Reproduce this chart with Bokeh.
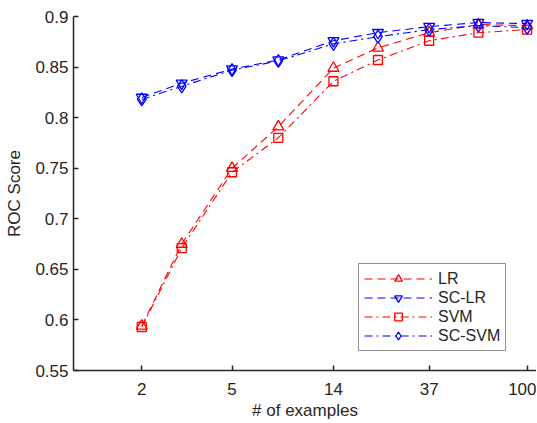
from bokeh.plotting import figure
from bokeh.models import Range1d, FixedTicker, Legend, LegendItem
from bokeh.embed import file_html
from bokeh.resources import INLINE

# ---- data ----
examples = [2, 3, 5, 8, 14, 22, 37, 61, 100]
lr = [0.594, 0.675, 0.750, 0.791, 0.849, 0.869, 0.884, 0.892, 0.891]
sc_lr = [0.820, 0.834, 0.848, 0.857, 0.876, 0.884, 0.890, 0.894, 0.893]
svm = [0.593, 0.671, 0.746, 0.780, 0.836, 0.857, 0.876, 0.884, 0.887]
sc_svm = [0.818, 0.831, 0.847, 0.856, 0.873, 0.880, 0.887, 0.891, 0.889]
x_ticks = [2, 5, 14, 37, 100]
x_tick_labels = ["2", "5", "14", "37", "100"]
y_ticks = [0.55, 0.6, 0.65, 0.7, 0.75, 0.8, 0.85, 0.9]
y_tick_labels = ["0.55", "0.6", "0.65", "0.7", "0.75", "0.8", "0.85", "0.9"]

FONT = "Liberation Sans"
TXT = "#262626"

p = figure(width=536, height=422, x_axis_type="log",
           x_range=Range1d(1, 110), y_range=Range1d(0.55, 0.9),
           output_backend="svg", toolbar_location=None,
           min_border_left=73, min_border_top=16, min_border_bottom=52,
           min_border_right=0)
p.outline_line_color = None
p.xgrid.visible = False
p.ygrid.visible = False
p.background_fill_color = "white"
p.border_fill_color = "white"

for ax in (p.xaxis[0], p.yaxis[0]):
    ax.axis_line_color = TXT
    ax.axis_line_width = 1.5
    ax.major_tick_line_color = TXT
    ax.major_tick_line_width = 1.5
    ax.major_tick_in = 5
    ax.major_tick_out = 0
    ax.minor_tick_line_color = None
    ax.major_label_text_font = FONT
    ax.major_label_text_font_size = "17px"
    ax.major_label_text_color = TXT
    ax.axis_label_text_font = FONT
    ax.axis_label_text_font_size = "17px"
    ax.axis_label_text_font_style = "normal"
    ax.axis_label_text_color = TXT

p.xaxis.ticker = FixedTicker(ticks=x_ticks)
p.xaxis.major_label_overrides = {t: l for t, l in zip(x_ticks, x_tick_labels)}
p.xaxis.major_label_standoff = 12
p.xaxis.axis_label = "# of examples"
p.xaxis.axis_label_standoff = 3

p.yaxis.ticker = FixedTicker(ticks=y_ticks)
p.yaxis.major_label_overrides = {t: l for t, l in zip(y_ticks, y_tick_labels)}
p.yaxis.major_label_standoff = 5
p.yaxis.axis_label = "ROC Score"
p.yaxis.axis_label_standoff = 8

RED = "#ff0000"
BLUE = "#0000ff"
DASH = "8 5"
DASHDOT = "8 4 2 4"

series = [
    ("LR", lr, RED, DASH, "triangle", 11),
    ("SC-LR", sc_lr, BLUE, DASH, "inverted_triangle", 11),
    ("SVM", svm, RED, DASHDOT, "square", 9),
    ("SC-SVM", sc_svm, BLUE, DASHDOT, "diamond", 13),
]

items = []
for name, ys, col, dash, marker, size in series:
    l = p.line(examples, ys, line_color=col, line_width=1.1, line_dash=dash)
    s = p.scatter(examples, ys, marker=marker, size=size, line_color=col,
                  fill_color=None, line_width=1.3)
    items.append(LegendItem(label=name, renderers=[l, s]))

legend = Legend(items=items, location=(285, 19))
legend.label_text_font = FONT
legend.label_text_font_size = "16px"
legend.label_text_color = TXT
legend.border_line_color = TXT
legend.border_line_width = 1.5
legend.background_fill_color = "white"
legend.background_fill_alpha = 1
legend.glyph_width = 68
legend.glyph_height = 19
legend.label_height = 19
legend.label_standoff = 6
legend.spacing = 0
legend.padding = 5
legend.margin = 0
p.add_layout(legend, "center")

open("out.html", "w").write(file_html(p, INLINE))
